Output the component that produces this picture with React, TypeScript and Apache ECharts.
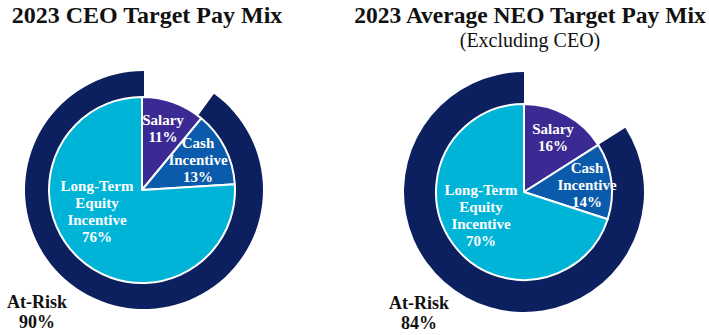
import React, { useEffect, useRef } from "react";
import * as echarts from "echarts";

const categories = ["Salary", "Cash\nIncentive", "Long-Term\nEquity\nIncentive"];
const ceoValues = [11, 13, 76];
const neoValues = [16, 14, 70];
const atRiskLabel = "At-Risk";
const atRiskValues = [90, 84];
const titles = ["2023 CEO Target Pay Mix", "2023 Average NEO Target Pay Mix"];
const subtitles = ["", "(Excluding CEO)"];

const sliceColors = ["#3b2a94", "#0a5bab", "#00b4d8"];
const ringColor = "#0c1f5e";
const FONT = "'Liberation Serif', 'Times New Roman', serif";

// label anchor positions (layout only)
const slicePos: [number, number][][] = [
  [
    [163, 128],
    [198, 160],
    [97, 211],
  ],
  [
    [553, 137],
    [587, 185],
    [481, 215],
  ],
];
const atRiskPos: [number, number][] = [
  [37, 312],
  [419, 313],
];

export default function App() {
  const ref = useRef<HTMLDivElement>(null);
  useEffect(() => {
    if (!ref.current) return;
    const chart = echarts.init(ref.current, undefined, { renderer: "svg" });
    const inner = (values: number[], center: [number, number], r: number) => ({
      type: "pie",
      center,
      radius: [0, r],
      startAngle: 90,
      clockwise: true,
      silent: true,
      z: 3,
      itemStyle: { borderColor: "#ffffff", borderWidth: 2 },
      label: { show: false },
      labelLine: { show: false },
      data: values.map((v, i) => ({
        name: categories[i],
        value: v,
        itemStyle: { color: sliceColors[i] },
      })),
    });
    const ring = (v: number, center: [number, number], radius: [number, number]) => ({
      type: "pie",
      center,
      radius,
      startAngle: 90,
      clockwise: true,
      silent: true,
      z: 2,
      label: { show: false },
      labelLine: { show: false },
      data: [
        { name: "", value: 100 - v, itemStyle: { color: "transparent" } },
        { name: atRiskLabel, value: v, itemStyle: { color: ringColor } },
      ],
    });
    const texts: any[] = [];
    [ceoValues, neoValues].forEach((vals, c) => {
      vals.forEach((v, i) => {
        texts.push({
          type: "text",
          x: slicePos[c][i][0],
          y: slicePos[c][i][1],
          z: 10,
          style: {
            text: `${categories[i]}\n${v}%`,
            fill: "#ffffff",
            font: `bold 15px ${FONT}`,
            lineHeight: 17,
            align: "center",
            verticalAlign: "middle",
          },
        });
      });
      texts.push({
        type: "text",
        x: atRiskPos[c][0],
        y: atRiskPos[c][1],
        z: 10,
        style: {
          text: `${atRiskLabel}\n${atRiskValues[c]}%`,
          fill: "#111111",
          font: `bold 18px ${FONT}`,
          lineHeight: 20,
          align: "center",
          verticalAlign: "middle",
        },
      });
    });
    chart.setOption({
      animation: false,
      backgroundColor: "#ffffff",
      title: [
        {
          text: titles[0],
          left: 142,
          top: -2,
          textAlign: "center",
          textStyle: { fontFamily: FONT, fontWeight: "bold", fontSize: 24, color: "#111111" },
        },
        {
          text: titles[1],
          subtext: subtitles[1],
          left: 525,
          top: -2,
          textAlign: "center",
          itemGap: 3,
          textStyle: { fontFamily: FONT, fontWeight: "bold", fontSize: 23.5, color: "#111111" },
          subtextStyle: { fontFamily: FONT, fontWeight: "normal", fontSize: 20, color: "#111111" },
        },
      ],
      graphic: texts,
      series: [
        ring(atRiskValues[0], [144, 190], [80, 119]),
        inner(ceoValues, [142, 190], 93),
        ring(atRiskValues[1], [524, 192], [75, 120]),
        inner(neoValues, [524, 192], 88),
      ],
    });
    return () => chart.dispose();
  }, []);
  return (
    <div
      ref={ref}
      style={{ position: "fixed", left: 0, top: 0, width: 709, height: 335 }}
    />
  );
}
